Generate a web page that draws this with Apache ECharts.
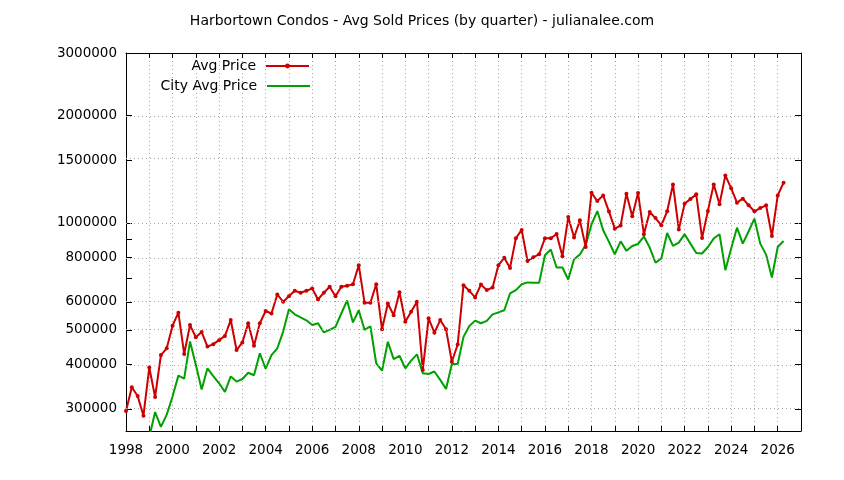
<!DOCTYPE html>
<html>
<head>
<meta charset="utf-8">
<script src="https://cdn.jsdelivr.net/npm/echarts@6/dist/echarts.min.js"></script>
<style>
html,body{margin:0;padding:0;background:#fff;}
#chart{width:844px;height:480px;}
</style>
</head>
<body>
<div id="chart"></div>
<script>
// ---- data (quarterly, starting 1998 Q1) ----
const startYear = 1998;
const avgPrice = [
  296000, 345000, 326000, 287000, 392000, 324000, 425000, 444000, 514000, 559000,
  428000, 516000, 477000, 493000, 449000, 456000, 468000, 481000, 533000, 439000,
  461000, 522000, 451000, 522000, 565000, 556000, 629000, 600000, 622000, 644000,
  636000, 644000, 654000, 609000, 636000, 661000, 622000, 661000, 665000, 672000,
  760000, 596000, 596000, 672000, 502000, 593000, 550000, 638000, 527000, 562000,
  600000, 386000, 539000, 491000, 533000, 502000, 407000, 455000, 668000, 644000,
  617000, 671000, 647000, 658000, 760000, 797000, 747000, 905000, 955000, 781000,
  800000, 816000, 905000, 905000, 930000, 806000, 1038000, 909000, 1016000, 855000,
  1215000, 1151000, 1194000, 1075000, 963000, 982000, 1207000, 1043000, 1212000, 929000,
  1072000, 1031000, 984000, 1077000, 1282000, 957000, 1132000, 1166000, 1202000, 906000,
  1080000, 1282000, 1127000, 1359000, 1250000, 1139000, 1169000, 1120000, 1077000, 1100000,
  1120000, 918000, 1194000, 1296000
];
const cityAvgPrice = [
  null, null, null, null, 250000,
  294000, 267000, 289000, 325000, 372000, 365000, 464000, 399000, 340000, 390000,
  371000, 354000, 335000, 370000, 358000, 364000, 379000, 373000, 430000, 389000,
  425000, 444000, 494000, 572000, 553000, 542000, 532000, 516000, 522000, 492000,
  500000, 510000, 556000, 605000, 525000, 568000, 500000, 512000, 403000, 384000,
  463000, 414000, 423000, 390000, 410000, 427000, 378000, 376000, 382000, 362000,
  341000, 401000, 401000, 478000, 513000, 531000, 522000, 530000, 553000, 560000,
  568000, 633000, 647000, 672000, 680000, 679000, 678000, 811000, 841000, 749000,
  749000, 693000, 790000, 815000, 867000, 990000, 1079000, 953000, 884000, 816000,
  887000, 834000, 861000, 872000, 915000, 852000, 773000, 794000, 936000, 861000,
  880000, 929000, 874000, 823000, 820000, 855000, 903000, 929000, 736000, 847000,
  969000, 874000, 947000, 1027000, 874000, 814000, 702000, 855000, 889000
];
const seriesNames = ['Avg Price', 'City Avg Price'];
const yLabelValues = [300000, 400000, 500000, 600000, 800000, 1000000, 1500000, 2000000, 3000000];
const yTickValues = [300000, 400000, 500000, 600000, 700000, 800000, 900000, 1000000, 1500000, 2000000, 3000000];
const xLabelYears = [1998, 2000, 2002, 2004, 2006, 2008, 2010, 2012, 2014, 2016, 2018, 2020, 2022, 2024, 2026];
const yMinValue = 260000, yMaxValue = 3000000;
const xMinYear = 1998, xMaxYear = 2027;

// ---- build ----
const lg = v => Math.log10(v);
const toPoints = arr => arr.map((v, i) => [startYear + i * 0.25, v == null ? null : lg(v)]);
const FONT = 'DejaVu Sans';
const gridColor = '#a8a8a8';
const RED = '#cc0000', GREEN = '#00a000';

const yCommon = {
  type: 'value', min: lg(yMinValue), max: lg(yMaxValue), scale: true,
  axisLine: { show: true, lineStyle: { color: '#000', width: 1 } }
};

const option = {
  animation: false,
  backgroundColor: '#fff',
  title: {
    text: 'Harbortown Condos - Avg Sold Prices (by quarter) - julianalee.com',
    left: 'center', top: 9,
    textStyle: { fontFamily: FONT, fontSize: 14, fontWeight: 'normal', color: '#000' }
  },
  legend: [
    { data: [seriesNames[0]], right: 534, top: 59, padding: 0, align: 'right', orient: 'vertical',
      itemWidth: 43, itemHeight: 6,
      textStyle: { fontFamily: FONT, fontSize: 14, color: '#000', padding: [0, 5, 0, 0] } },
    { data: [{ name: seriesNames[1], icon: 'rect' }], right: 534, top: 79, padding: 0, align: 'right', orient: 'vertical',
      itemWidth: 43, itemHeight: 2,
      textStyle: { fontFamily: FONT, fontSize: 14, color: '#000', padding: [0, 5, 0, 0] } }
  ],
  grid: { left: 126, right: 43, top: 53, bottom: 49, containLabel: false },
  xAxis: [
    { type: 'value', position: 'bottom', min: xMinYear, max: xMaxYear, interval: 1,
      axisLine: { show: true, onZero: false, lineStyle: { color: '#000' } },
      axisTick: { show: true, inside: true, length: 5, lineStyle: { color: '#000' } },
      axisLabel: { customValues: xLabelYears, margin: 12, fontFamily: FONT, fontSize: 13.5, color: '#000',
        formatter: v => String(Math.round(v)) },
      splitLine: { show: true, lineStyle: { color: gridColor, type: [1, 3], width: 1 } } },
    { type: 'value', position: 'top', min: xMinYear, max: xMaxYear, interval: 1,
      axisLine: { show: true, onZero: false, lineStyle: { color: '#000' } },
      axisTick: { show: true, inside: true, length: 5, lineStyle: { color: '#000' } },
      axisLabel: { show: false }, splitLine: { show: false } }
  ],
  yAxis: [
    Object.assign({}, yCommon, {
      position: 'left',
      axisTick: { show: true, inside: true, length: 6, customValues: yTickValues.map(lg), lineStyle: { color: '#000' } },
      axisLabel: { customValues: yLabelValues.map(lg), margin: 9, fontFamily: FONT, fontSize: 13.5, color: '#000',
        formatter: v => String(Math.round(Math.pow(10, v))) },
      splitLine: { show: false }
    }),
    Object.assign({}, yCommon, {
      position: 'right',
      axisTick: { show: true, inside: true, length: 6, customValues: yTickValues.map(lg), lineStyle: { color: '#000' } },
      axisLabel: { show: false },
      splitLine: { show: false }
    })
  ],
  series: [
    { name: 'grid', type: 'line', data: [], z: 1, silent: true,
      markLine: { silent: true, symbol: 'none', label: { show: false }, animation: false,
        lineStyle: { color: gridColor, type: [1, 3], width: 1 },
        data: yLabelValues.map(v => ({ yAxis: lg(v) })) } },
    { name: seriesNames[1], type: 'line', data: toPoints(cityAvgPrice), xAxisIndex: 0, yAxisIndex: 0,
      showSymbol: false, symbol: 'none', clip: true, connectNulls: false,
      lineStyle: { color: GREEN, width: 2 }, itemStyle: { color: GREEN }, z: 3 },
    { name: seriesNames[0], type: 'line', data: toPoints(avgPrice), xAxisIndex: 0, yAxisIndex: 0,
      symbol: 'circle', symbolSize: 4, showSymbol: true, clip: true,
      lineStyle: { color: RED, width: 2 }, itemStyle: { color: RED }, z: 4 }
  ]
};

const chart = echarts.init(document.getElementById('chart'), null, { renderer: 'canvas' });
chart.setOption(option);
</script>
</body>
</html>
